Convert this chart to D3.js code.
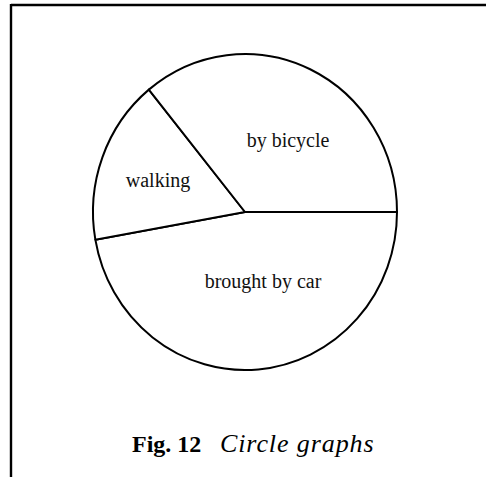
<!DOCTYPE html>
<html>
<head>
<meta charset="utf-8">
<script src="https://cdn.jsdelivr.net/npm/d3@7"></script>
<style>
  html, body { margin: 0; padding: 0; background: #fff; }
  svg { display: block; }
</style>
</head>
<body>
<svg id="chart" width="486" height="477"></svg>
<script>
// How pupils get to school (share of the class, %)
const categories = ["brought by car", "walking", "by bicycle"];
const values = [47.2, 16.9, 35.9];
const caption = { label: "Fig. 12", title: "Circle graphs" };

const W = 486, H = 477;
const svg = d3.select("#chart");

// frame: top and left rules
svg.append("line").attr("x1", 11).attr("y1", 5).attr("x2", W).attr("y2", 5)
  .attr("stroke", "#000").attr("stroke-width", 2.4);
svg.append("line").attr("x1", 11).attr("y1", 4).attr("x2", 11).attr("y2", H)
  .attr("stroke", "#000").attr("stroke-width", 2.4);

// pie, slightly taller than wide
const cx = 245, cy = 212, rx = 152, ry = 158;
const pie = d3.pie().sort(null)
  .startAngle(Math.PI / 2).endAngle(Math.PI / 2 + 2 * Math.PI);
const arcs = pie(values);
const arc = d3.arc().innerRadius(0).outerRadius(ry);

const g = svg.append("g")
  .attr("transform", `translate(${cx},${cy}) scale(${rx / ry},1)`);
g.selectAll("path").data(arcs).join("path")
  .attr("d", arc)
  .attr("fill", "#fff")
  .attr("stroke", "#000")
  .attr("stroke-width", 2)
  .attr("stroke-linejoin", "round")
  .attr("vector-effect", "non-scaling-stroke");

// slice labels
const labelPos = {
  "by bicycle": [288, 147],
  "walking": [158, 187],
  "brought by car": [263, 288]
};
svg.selectAll("text.slice").data(arcs).join("text")
  .attr("class", "slice")
  .attr("x", (d, i) => labelPos[categories[i]][0])
  .attr("y", (d, i) => labelPos[categories[i]][1])
  .attr("text-anchor", "middle")
  .attr("font-family", "'Liberation Serif', 'Times New Roman', serif")
  .attr("font-size", 20)
  .attr("fill", "#111")
  .text((d, i) => categories[i]);

// caption
const cap = svg.append("text")
  .attr("y", 452)
  .attr("font-family", "'Liberation Serif', 'Times New Roman', serif")
  .attr("fill", "#000");
cap.append("tspan").attr("x", 132).attr("font-weight", "bold")
  .attr("font-size", 24).text(caption.label);
cap.append("tspan").attr("x", 220).attr("font-style", "italic")
  .attr("font-size", 26).attr("letter-spacing", 0.9).text(caption.title);
</script>
</body>
</html>
